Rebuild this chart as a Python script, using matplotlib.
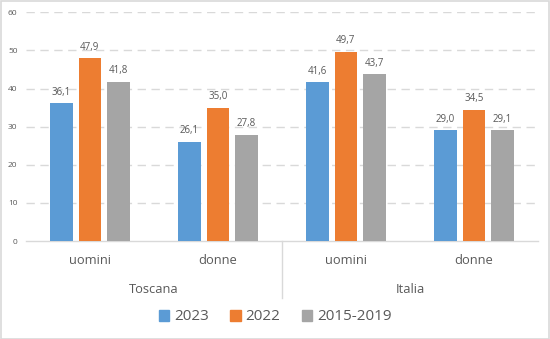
import matplotlib.pyplot as plt
from matplotlib.patches import Rectangle, Patch
from matplotlib.lines import Line2D
import numpy as np

# Data
regions = ["Toscana", "Italia"]
genders = ["uomini", "donne"]
series_names = ["2023", "2022", "2015-2019"]
v2023 = [36.1, 26.1, 41.6, 29.0]
v2022 = [47.9, 35.0, 49.7, 34.5]
v1519 = [41.8, 27.8, 43.7, 29.1]
yticks = [0, 10, 20, 30, 40, 50, 60]

colors = ["#5B9BD5", "#ED7D31", "#A5A5A5"]
text_col = "#595959"
grid_col = "#D9D9D9"

plt.rcParams['font.family'] = ['Open Sans', 'DejaVu Sans']

fig = plt.figure(figsize=(5.5, 3.39), dpi=100)
ax = fig.add_axes([0.047, 0.289, 0.931, 0.6747])

x = np.arange(len(regions) * len(genders))
width = 0.176
pitch = 0.223
for i, (vals, c) in enumerate(zip([v2023, v2022, v1519], colors)):
    pos = x + (i - 1) * pitch
    ax.bar(pos, vals, width=width, color=c, zorder=3)
    for xp, v in zip(pos, vals):
        ax.annotate(f"{v:.1f}".replace(".", ","), (xp, v), xytext=(0, 4),
                    textcoords="offset points", ha="center", va="bottom",
                    fontsize=7, color=text_col)

ax.set_xlim(-0.5, len(x) - 0.5)
ax.set_ylim(0, 60)
ax.set_yticks(yticks)
ax.set_yticklabels([str(t) for t in yticks], fontsize=6, color=text_col)
ax.tick_params(axis="y", length=0, pad=6)
ax.set_xticks([])
for t in yticks[1:]:
    ax.axhline(t, color=grid_col, lw=1, ls=(0, (6, 4)), zorder=1)
for s in ["top", "right", "left"]:
    ax.spines[s].set_visible(False)
ax.spines["bottom"].set_color(grid_col)
ax.spines["bottom"].set_linewidth(1)

# category labels (two levels)
tr = ax.get_xaxis_transform()
for i in range(len(x)):
    ax.text(x[i], -0.086, genders[i % 2], transform=tr, ha="center", va="center",
            fontsize=9.3, color=text_col)
for j, r in enumerate(regions):
    ax.text(2 * j + 0.5, -0.21, r, transform=tr, ha="center", va="center",
            fontsize=9.3, color=text_col)
ax.add_line(Line2D([1.5, 1.5], [0, -0.249], transform=tr, color=grid_col,
                   lw=1, clip_on=False))

handles = [Patch(color=c) for c in colors]
fig.legend(handles, series_names, loc="center", bbox_to_anchor=(0.5, 1 - 317 / 339),
           ncol=3, frameon=False, fontsize=11, handlelength=0.7, handleheight=0.7,
           handletextpad=0.3, columnspacing=1.4, labelcolor=text_col)

fig.add_artist(Rectangle((0.001, 0.001), 0.997, 0.996, transform=fig.transFigure,
                         fill=False, edgecolor=grid_col, lw=1.2))

fig.savefig("out.png", dpi=100)
